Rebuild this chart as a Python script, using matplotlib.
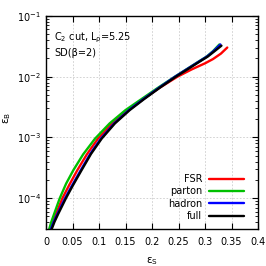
import matplotlib
matplotlib.use("Agg")
import matplotlib.pyplot as plt

# series (x = eps_S, y = eps_B)
fsr_x = [0.008, 0.013, 0.019, 0.031, 0.044, 0.059, 0.077, 0.098, 0.125, 0.155,
         0.183, 0.213, 0.248, 0.275, 0.300, 0.315, 0.330, 0.342]
fsr_y = [3.09e-5, 4.07e-5, 5.50e-5, 1.0e-4, 1.66e-4, 2.88e-4, 5.25e-4, 9.55e-4, 1.70e-3, 2.82e-3,
         4.27e-3, 6.46e-3, 1.0e-2, 1.32e-2, 1.66e-2, 1.95e-2, 2.40e-2, 3.02e-2]

parton_x = [0.006, 0.010, 0.0157, 0.026, 0.038, 0.0515, 0.070, 0.0925, 0.120, 0.150,
            0.180, 0.210, 0.243, 0.270, 0.290, 0.303, 0.315, 0.327]
parton_y = [3.09e-5, 4.07e-5, 5.62e-5, 1.0e-4, 1.74e-4, 2.88e-4, 5.25e-4, 9.55e-4, 1.70e-3, 2.82e-3,
            4.27e-3, 6.46e-3, 1.0e-2, 1.41e-2, 1.82e-2, 2.14e-2, 2.63e-2, 3.39e-2]

hadron_x = [0.0092, 0.0145, 0.0215, 0.036, 0.0485, 0.0655, 0.0835, 0.1035, 0.1285, 0.1565,
            0.1835, 0.2135, 0.2435, 0.2705, 0.2905, 0.3035, 0.316, 0.329]
hadron_y = [3.09e-5, 4.07e-5, 5.50e-5, 1.0e-4, 1.58e-4, 2.88e-4, 5.37e-4, 9.55e-4, 1.70e-3, 2.82e-3,
            4.27e-3, 6.61e-3, 1.0e-2, 1.41e-2, 1.82e-2, 2.14e-2, 2.63e-2, 3.39e-2]

full_x = [0.0107, 0.016, 0.023, 0.0377, 0.050, 0.067, 0.085, 0.105, 0.130, 0.158,
          0.185, 0.215, 0.245, 0.272, 0.292, 0.305, 0.318, 0.331]
full_y = [3.09e-5, 4.07e-5, 5.50e-5, 1.0e-4, 1.58e-4, 2.88e-4, 5.37e-4, 9.55e-4, 1.70e-3, 2.82e-3,
          4.27e-3, 6.61e-3, 1.0e-2, 1.41e-2, 1.82e-2, 2.14e-2, 2.63e-2, 3.24e-2]

series = [
    ("FSR", fsr_x, fsr_y, "#ff0000"),
    ("parton", parton_x, parton_y, "#00c000"),
    ("hadron", hadron_x, hadron_y, "#0000ff"),
    ("full", full_x, full_y, "#000000"),
]

xticks = [0, 0.05, 0.1, 0.15, 0.2, 0.25, 0.3, 0.35, 0.4]
xticklabels = ["0", "0.05", "0.1", "0.15", "0.2", "0.25", "0.3", "0.35", "0.4"]
yticks = [1e-4, 1e-3, 1e-2, 1e-1]
yticklabels = ["10$^{-4}$", "10$^{-3}$", "10$^{-2}$", "10$^{-1}$"]

plt.rcParams["font.family"] = ["DejaVu Sans"]
plt.rcParams["mathtext.default"] = "regular"

fig = plt.figure(figsize=(2.66, 2.66), dpi=100)
ax = fig.add_axes([0.173, 0.139, 0.797, 0.801])

for label, xs, ys, col in series:
    ax.plot(xs, ys, color=col, lw=1.7, label=label,
            solid_joinstyle="round", solid_capstyle="round")

ax.set_yscale("log")
ax.set_xlim(0, 0.4)
ax.set_ylim(3.1e-5, 1e-1)
ax.set_xticks(xticks)
ax.set_xticklabels(xticklabels)
ax.set_yticks(yticks)
ax.set_yticklabels(yticklabels)
ax.tick_params(which="both", direction="in", top=True, right=True, labelsize=7)
ax.tick_params(which="major", length=4, width=0.8)
ax.tick_params(which="minor", length=2, width=0.6)
ax.tick_params(axis="x", which="minor", bottom=False, top=False)
ax.tick_params(axis="x", pad=6)
ax.grid(True, which="major", ls=(0, (2, 2)), color="#cccccc", lw=0.6)
for s in ax.spines.values():
    s.set_linewidth(1.0)

ax.set_xlabel(r"$\epsilon_S$", fontsize=7.5, labelpad=6)
ax.set_ylabel(r"$\epsilon_B$", fontsize=7.5)
ax.yaxis.set_label_coords(-0.155, 0.52)

ax.text(0.04, 0.93, r"C$_2$ cut, L$_\rho$=5.25", transform=ax.transAxes,
        fontsize=7, va="top", ha="left")
ax.text(0.04, 0.85, "SD(β=2)", transform=ax.transAxes,
        fontsize=7, va="top", ha="left")

ax.legend(loc="lower right", frameon=False, fontsize=7, markerfirst=False,
          handlelength=3.6, handletextpad=0.7, labelspacing=0.25,
          borderaxespad=0.4, bbox_to_anchor=(0.97, 0.0))

fig.savefig("out.png", dpi=100)
